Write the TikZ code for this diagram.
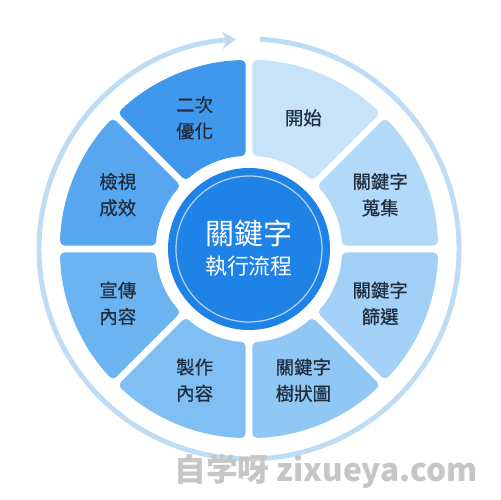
\documentclass[tikz,border=0pt]{standalone}
\usepackage{fontspec}
\newfontfamily\tcfont{Noto Sans CJK TC}
\newfontfamily\tcheavy{Noto Sans CJK TC}[FakeBold=0.6]
\newfontfamily\scfont{Noto Sans CJK SC}
\usetikzlibrary{arrows.meta,positioning}

\definecolor{stepA}{HTML}{C6E3FA}
\definecolor{stepB}{HTML}{B3D9F8}
\definecolor{stepC}{HTML}{A2D0F6}
\definecolor{stepD}{HTML}{90C7F4}
\definecolor{stepE}{HTML}{80BFF3}
\definecolor{stepF}{HTML}{6BB3F1}
\definecolor{stepG}{HTML}{56A7EF}
\definecolor{stepH}{HTML}{3F98EC}
\definecolor{hub}{HTML}{1E82E6}
\definecolor{ringblue}{HTML}{BEDDF4}
\definecolor{ink}{HTML}{1F2D3D}

\tikzset{
  steplabel/.style={align=center, text=ink, font=\tcheavy\fontsize{10.5pt}{15pt}\selectfont},
  ringline/.style={draw=ringblue, line width=2.8pt},
}

\begin{document}
\begin{tikzpicture}[x=0.02cm,y=0.02cm]
\fill [white] (-249, -251) rectangle (251, 249);

% outer ring with arrow
\draw [ringline, -{Stealth[length=8pt,width=10pt]}] (87:210) arc [start angle=87, end angle=-266.5, radius=210];

% segments
\def\gapout{1.06}
\def\gapin{2.13}
\foreach \a/\col/\txt [count=\i] in {45/stepA/{開始}, 0/stepB/{關鍵字\\蒐集}, -45/stepC/{關鍵字\\篩選}, -90/stepD/{關鍵字\\樹狀圖}, -135/stepE/{製作\\內容}, 180/stepF/{宣傳\\內容}, 135/stepG/{檢視\\成效}, 90/stepH/{二次\\優化}} {
  \fill [\col, rounded corners=2.5pt] ({\a+\gapout}:189) arc [start angle={\a+\gapout}, end angle={\a+45-\gapout}, radius=189]
    -- ({\a+45-\gapin}:93) arc [start angle={\a+45-\gapin}, end angle={\a+\gapin}, radius=93] -- cycle;
  \node (step\i) at ({\a+22.5}:142) [steplabel] {\txt};
}

% centre
\fill [hub] (0, 0) circle [radius=81];
\draw [white!65!hub, line width=0.7pt] (0, 0) circle [radius=73];
\node (title) at (0, 16) [text=white, font=\tcfont\fontsize{16.5pt}{20pt}\selectfont] {關鍵字};
\node (subtitle) at (0, -17) [text=white, font=\tcfont\fontsize{12.5pt}{16pt}\selectfont] {執行流程};

% watermark
\node (mark) at (77, -222) [text=gray!45, font=\scfont\bfseries\fontsize{18pt}{20pt}\selectfont] {自学呀\ zixueya.com};
\end{tikzpicture}
\end{document}
